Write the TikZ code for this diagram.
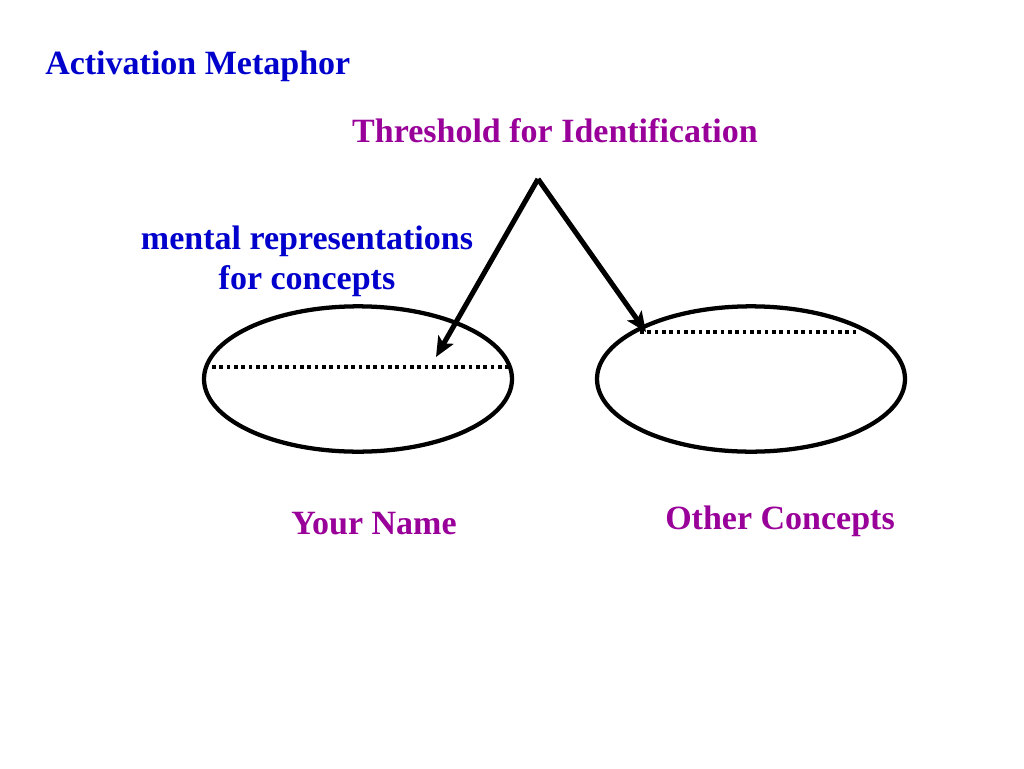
\documentclass[tikz,border=0pt]{standalone}
\usepackage{fontspec}
\setmainfont{Liberation Serif}
\usetikzlibrary{shapes.geometric,arrows.meta}
\definecolor{titleblue}{RGB}{0,0,204}
\definecolor{labelpurple}{RGB}{153,0,153}
\begin{document}
\begin{tikzpicture}[x=0.75pt,y=-0.75pt,line join=miter,
  txt/.style={font=\fontsize{25.5}{30}\selectfont\bfseries,inner sep=0pt},
  oval/.style={draw,ellipse,line width=3.2pt,minimum width=231pt,minimum height=109pt,inner sep=0pt},
  level/.style={line width=3.5pt,dash pattern=on 2.8pt off 2.7pt},
  >={Stealth[length=15pt,width=13pt,inset=3.5pt]}]
 \useasboundingbox (0,0) rectangle (1024,768);
 % titles
 \node[txt,titleblue,anchor=west] (title) at (45,66) {Activation Metaphor};
 \node[txt,labelpurple] (thresh) at (555,131) {Threshold for Identification};
 \node[txt,titleblue,align=center] (mental) at (307,261) {mental representations\\for concepts};
 % concepts
 \node[oval] (name) at (358,379) {};
 \node[oval] (other) at (751,379) {};
 \node[txt,labelpurple] (namelbl) at (374,524) {Your Name};
 \node[txt,labelpurple] (otherlbl) at (780,521) {Other Concepts};
 % thresholds
 \coordinate (apex) at (538,179);
 \coordinate (namehit) at (436,357);
 \coordinate (otherhit) at (646,332);
 \draw[level] (212,367) -- (508,367);
 \draw[level] (640,332) -- (858,332);
 \draw[->,line width=3.8pt] (apex) -- (namehit);
 \draw[->,line width=3.8pt] (apex) -- (otherhit);
\end{tikzpicture}
\end{document}
